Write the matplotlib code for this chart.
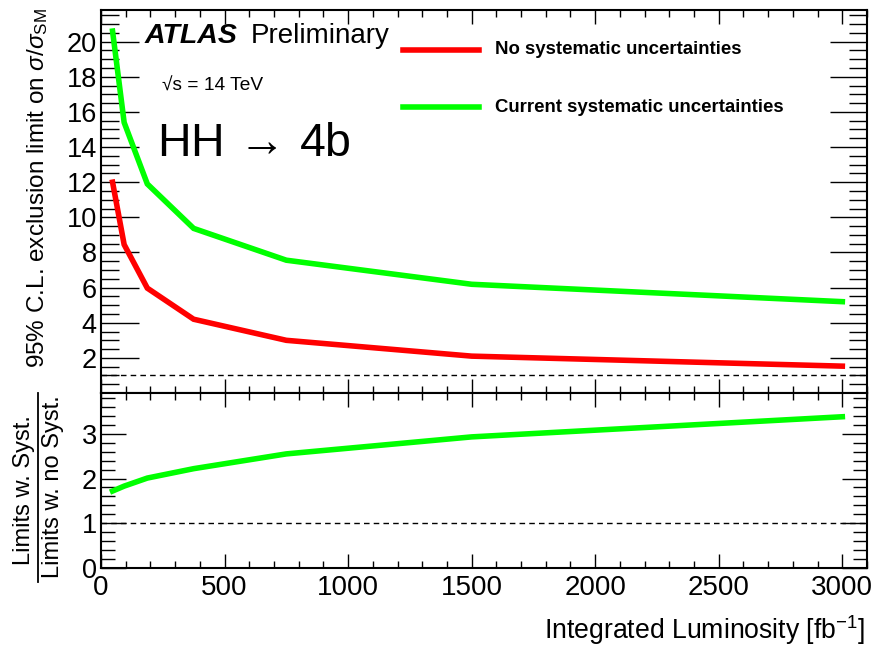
import matplotlib
matplotlib.use("Agg")
import matplotlib.pyplot as plt
from matplotlib.lines import Line2D
from matplotlib.ticker import MultipleLocator

# Style
plt.rcParams['font.family'] = ['Liberation Sans', 'DejaVu Sans']
plt.rcParams['mathtext.fontset'] = 'custom'
plt.rcParams['mathtext.rm'] = 'Liberation Sans'
plt.rcParams['mathtext.it'] = 'Liberation Sans:italic'
plt.rcParams['mathtext.bf'] = 'Liberation Sans:bold'
plt.rcParams['axes.linewidth'] = 1.5

red = '#ff0000'
green = '#00ff00'

# Data
lumi = [46.875, 93.75, 187.5, 375, 750, 1500, 3000]
limit_nosyst = [12.0, 8.45, 5.97, 4.2, 3.0, 2.1, 1.53]
limit_syst = [20.6, 15.4, 11.9, 9.37, 7.56, 6.19, 5.2]
ratio = [1.72, 1.83, 2.01, 2.22, 2.55, 2.93, 3.38]

fig = plt.figure(figsize=(8.75, 6.46), dpi=100)
ax1 = fig.add_axes([0.1154, 0.3916, 0.8755, 0.5929])
ax2 = fig.add_axes([0.1154, 0.1207, 0.8755, 0.2709])

# Upper panel: limits
ax1.plot(lumi, limit_nosyst, color=red, lw=4, solid_joinstyle='miter')
ax1.plot(lumi, limit_syst, color=green, lw=4, solid_joinstyle='miter')
ax1.axhline(1, color='black', lw=1, ls=(0, (4, 3)))
ax1.set_xlim(0, 3100)
ax1.set_ylim(0, 21.8)
ax1.yaxis.set_major_locator(MultipleLocator(2))
ax1.yaxis.set_minor_locator(MultipleLocator(0.5))
ax1.set_yticks([2, 4, 6, 8, 10, 12, 14, 16, 18, 20])
ax1.tick_params(axis='x', labelbottom=False)

# Lower panel: ratio
ax2.plot(lumi, ratio, color=green, lw=4, solid_joinstyle='miter')
ax2.axhline(1, color='black', lw=1, ls=(0, (4, 3)))
ax2.set_xlim(0, 3100)
ax2.set_ylim(0, 3.91)
ax2.yaxis.set_major_locator(MultipleLocator(1))
ax2.yaxis.set_minor_locator(MultipleLocator(0.2))

for ax in (ax1, ax2):
    ax.xaxis.set_major_locator(MultipleLocator(500))
    ax.xaxis.set_minor_locator(MultipleLocator(100))
    ax.tick_params(which='both', direction='in', top=True, right=True, width=1.0)
    ax.tick_params(axis='x', which='major', length=10, labelsize=20, pad=5)
    ax.tick_params(axis='x', which='minor', length=5)

ax1.tick_params(axis='y', which='major', length=27, labelsize=19.5, pad=3)
ax1.tick_params(axis='y', which='minor', length=13)
ax2.tick_params(axis='y', which='major', length=18, labelsize=19.5, pad=3)
ax2.tick_params(axis='y', which='minor', length=10)

# Labels
fig.text(0.043, 0.988, r'95% C.L. exclusion limit on $\sigma/\sigma_{\mathrm{SM}}$',
         rotation=90, ha='center', va='top', fontsize=17.5)
fig.text(0.989, 0.024, r'Integrated Luminosity [fb$^{-1}$]',
         ha='right', va='center', fontsize=19.2)

# Ratio label drawn as a fraction
fig.text(24 / 875, 1 - 490 / 646, 'Limits w. Syst.', rotation=90,
         ha='center', va='center', fontsize=17)
fig.text(53 / 875, 1 - 487 / 646, 'Limits w. no Syst.', rotation=90,
         ha='center', va='center', fontsize=17)
fig.add_artist(Line2D([38 / 875, 38 / 875], [1 - 393 / 646, 1 - 582 / 646],
                      transform=fig.transFigure, color='black', lw=1.3))

# Annotations
ax1.text(0.057, 0.915, 'ATLAS', transform=ax1.transAxes, fontsize=20.5,
         fontweight='bold', fontstyle='italic', va='baseline')
ax1.text(0.196, 0.915, 'Preliminary', transform=ax1.transAxes, fontsize=20,
         va='baseline')
ax1.text(0.08, 0.80, '√s = 14 TeV', transform=ax1.transAxes, fontsize=13.8,
         va='center')
ax1.text(0.073, 0.62, r'HH $\!\rightarrow\!$ 4b', transform=ax1.transAxes,
         fontsize=33.5, va='baseline')

# Legend
leg_x0, leg_x1 = 403, 479
for yy, col, lab in [(50, red, 'No systematic uncertainties'),
                     (107, green, 'Current systematic uncertainties')]:
    fy = 1 - yy / 646
    fig.add_artist(Line2D([leg_x0 / 875, leg_x1 / 875], [fy, fy],
                          transform=fig.transFigure, color=col, lw=4))
    fig.text(495 / 875, fy, lab, ha='left', va='center', fontsize=13.4,
             fontweight='bold')

fig.savefig('out.png', dpi=100)
